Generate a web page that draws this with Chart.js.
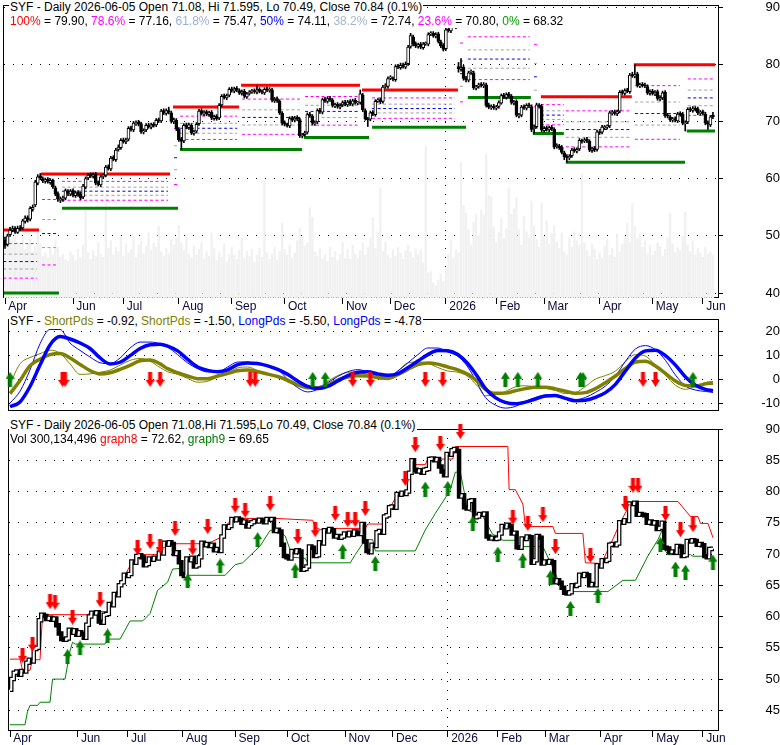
<!DOCTYPE html>
<html><head><meta charset="utf-8">
<script src="https://cdn.jsdelivr.net/npm/chart.js@4"></script>
<style>
html,body{margin:0;padding:0;background:#fff;}
#wrap{position:relative;width:780px;height:745px;overflow:hidden;background:#fff;}
canvas{position:absolute;left:0;}
.hd{position:absolute;font-family:"Liberation Sans",Arial,sans-serif;font-size:12px;line-height:14px;white-space:pre;background:#fff;color:#000;padding:0 1px;z-index:5;}
</style></head><body>
<div id="wrap">
<canvas id="c1" width="780" height="316" style="top:0px"></canvas>
<canvas id="c2" width="780" height="110" style="top:310px"></canvas>
<canvas id="c3" width="780" height="325" style="top:420px"></canvas>
<div class="hd" style="left:9px;top:0px">SYF - Daily 2026-06-05 Open 71.08, Hi 71.595, Lo 70.49, Close 70.84 (0.1%)</div>
<div class="hd" style="left:9px;top:14px"><span style="color:#ff0000">100%</span> = 79.90, <span style="color:#ff00ff">78.6%</span> = 77.16, <span style="color:#9cb0d6">61.8%</span> = 75.47, <span style="color:#0000ff">50%</span> = 74.11, <span style="color:#a8b6cc">38.2%</span> = 72.74, <span style="color:#ff00ff">23.6%</span> = 70.80, <span style="color:#00a000">0%</span> = 68.32</div>
<div class="hd" style="left:9px;top:314px">SYF - <span style="color:#808000">ShortPds</span> = -0.92, <span style="color:#808000">ShortPds</span> = -1.50, <span style="color:#0000ff">LongPds</span> = -5.50, <span style="color:#0000ff">LongPds</span> = -4.78</div>
<div class="hd" style="left:9px;top:418px">SYF - Daily 2026-06-05 Open 71.08,Hi 71.595,Lo 70.49, Close 70.84 (0.1%)</div>
<div class="hd" style="left:9px;top:432px">Vol 300,134,496 <span style="color:#ff0000">graph8</span> = 72.62, <span style="color:#008000">graph9</span> = 69.65</div>
</div>
<script>
// ---------- DATA ----------
const monthTickIdx = [0,27,47,69,90,111,134,153,175,195,214,236,257,277];
const monthTickLabels = ['Apr','Jun','Jul','Aug','Sep','Oct','Nov','Dec','2026','Feb','Mar','Apr','May','Jun'];
const yearLineIdx = 175;
const priceTicks = [40,50,60,70,80,90];
const oscTicks = [-10,0,10,20];
const stepTicks = [45,50,55,60,65,70,75,80,85,90];

const opens = [
49.2,48.5,50.2,51.0,51.3,50.6,51.4,51.4,52.5,53.2,
52.9,54.6,55.4,59.2,60.5,60.0,59.5,59.9,59.3,59.7,
58.4,57.4,56.2,56.4,56.6,57.8,57.3,57.9,57.0,57.6,
57.3,56.8,58.5,60.1,60.7,60.4,60.8,59.3,58.9,60.4,
60.6,62.1,61.7,63.7,63.3,65.1,65.4,66.8,66.4,66.9,
68.9,68.5,69.6,69.9,69.6,68.1,68.5,69.4,69.0,69.5,
69.4,70.3,70.1,71.9,71.4,71.9,71.5,69.9,70.2,68.6,
66.9,66.6,69.4,68.9,69.3,67.9,68.3,69.6,71.9,71.3,
71.7,71.2,71.6,70.5,70.9,70.6,72.9,74.5,74.1,74.6,
75.7,75.3,75.8,75.4,74.9,75.3,74.3,74.9,75.2,75.4,
75.1,75.6,75.2,75.0,75.7,75.4,75.5,73.6,74.0,73.5,
71.4,69.8,69.4,69.2,70.6,70.2,70.7,70.3,67.4,67.7,
68.1,71.3,70.9,69.6,69.9,72.0,71.6,73.9,73.5,74.1,
73.7,72.7,73.0,72.5,72.9,73.4,72.9,73.5,73.0,73.7,
73.2,73.3,74.6,71.9,70.4,70.4,71.6,71.2,73.6,73.8,
73.5,76.1,76.1,77.6,77.5,77.3,79.7,79.4,79.9,79.5,
80.1,83.1,84.8,83.6,83.1,83.5,82.9,83.6,83.5,85.3,
85.4,84.9,85.3,83.9,83.3,82.7,86.1,85.8,86.7,86.9,
79.6,79.1,79.5,77.6,77.2,78.6,78.5,75.8,76.1,76.5,
76.2,76.4,72.9,72.4,72.7,72.3,72.6,73.2,74.6,74.2,
74.8,74.4,73.2,73.5,71.0,71.1,72.6,72.3,72.9,72.6,
68.7,69.1,72.8,72.7,68.4,68.9,68.5,69.0,68.6,65.6,
65.7,65.5,64.5,63.9,63.6,64.0,65.1,64.8,65.2,66.6,
66.6,66.9,66.5,64.9,65.3,65.1,68.1,68.1,68.9,69.0,
69.2,71.4,71.7,71.3,71.8,75.2,74.9,75.5,75.2,78.2,
77.9,78.3,76.2,76.5,76.4,76.1,74.9,75.3,74.8,75.2,
73.9,74.1,75.1,71.1,70.8,70.2,70.5,70.1,71.4,71.3,
69.6,69.9,72.2,71.9,72.3,72.2,71.4,71.7,71.3,69.8,
69.4,71.08];
const highs = [
49.8,50.3,51.5,51.7,51.6,51.7,51.8,52.9,53.5,53.5,
55.1,55.4,59.7,60.7,60.9,60.3,60.1,60.2,60.0,59.9,
58.7,57.7,56.8,56.9,58.2,58.1,58.1,58.2,57.8,57.9,
57.6,59.0,60.3,60.9,61.0,61.0,61.1,59.6,60.6,60.8,
62.3,62.4,63.9,64.0,65.3,65.9,67.0,67.1,67.1,69.1,
69.2,70.0,70.1,70.2,69.9,68.7,69.6,69.7,69.7,69.8,
70.5,70.6,72.1,72.2,72.2,72.5,71.8,70.6,70.5,68.9,
67.2,69.6,69.7,69.7,69.6,68.5,69.8,72.1,72.2,71.9,
72.0,71.8,71.9,71.1,71.2,73.1,74.7,74.8,74.8,75.9,
76.0,76.0,76.1,75.7,75.5,75.6,75.1,75.4,75.6,75.7,
76.3,75.9,75.5,75.9,76.0,75.9,75.8,74.2,74.3,73.8,
71.7,70.1,69.7,70.8,70.9,70.9,71.0,70.6,67.9,68.3,
71.5,71.6,71.2,70.1,72.2,72.3,74.1,74.2,74.3,74.4,
74.0,73.2,73.3,73.1,73.6,73.7,73.7,73.8,73.9,74.0,
73.5,75.5,74.9,72.2,70.7,71.8,71.9,73.8,74.0,74.1,
76.3,76.6,77.8,78.0,77.8,79.9,80.0,80.2,80.2,80.4,
83.3,85.4,85.1,83.9,83.7,83.8,83.8,83.9,85.5,85.7,
85.7,85.5,85.6,84.2,83.6,86.3,86.4,87.0,87.7,87.2,
80.3,81.0,79.8,77.9,78.8,79.0,78.8,76.3,76.7,76.8,
76.8,76.7,73.2,72.9,73.0,72.8,73.6,74.8,74.9,75.0,
75.1,74.7,73.7,73.8,71.4,72.8,72.9,73.1,73.2,72.9,
69.4,73.2,73.1,73.0,69.1,69.2,69.2,69.3,68.9,66.1,
66.0,65.8,64.8,64.2,64.2,65.3,65.4,65.4,67.0,66.9,
67.1,67.2,66.8,65.5,65.6,68.5,68.4,69.3,69.3,69.4,
71.8,71.9,72.0,72.0,75.4,75.5,75.7,75.8,78.4,78.6,
79.9,78.6,76.7,76.8,76.7,76.4,75.5,75.6,75.4,75.5,
74.5,75.3,75.4,71.4,71.1,70.7,70.8,71.6,71.7,71.6,
70.1,72.4,72.5,72.6,72.6,72.5,71.9,72.0,71.6,70.1,
71.0,71.595];
const lows = [
47.8,48.2,49.9,50.7,50.4,50.4,50.9,51.1,52.2,52.4,
52.6,54.3,55.1,58.9,59.8,59.3,59.2,59.2,59.0,58.3,
57.0,56.0,55.8,56.0,56.3,57.0,57.0,56.8,56.7,56.9,
56.3,56.5,58.2,59.8,60.2,60.1,58.9,58.7,58.6,60.0,
60.3,61.5,61.4,63.1,63.0,64.8,65.1,66.2,66.1,66.6,
68.3,68.2,69.3,69.2,67.9,67.8,68.2,68.8,68.7,69.0,
69.1,69.8,69.8,71.2,71.1,71.3,69.7,69.6,68.4,66.5,
65.1,66.3,68.7,68.6,67.7,67.6,68.0,69.3,71.1,71.0,
71.0,70.9,70.3,70.2,70.2,70.3,72.6,73.9,73.8,74.3,
75.1,75.0,75.2,74.7,74.6,74.1,74.0,74.6,74.9,74.9,
74.8,75.0,74.8,74.7,75.2,75.1,73.4,73.3,73.3,71.2,
69.4,69.2,69.0,68.9,70.0,69.9,70.1,67.2,67.1,67.4,
67.8,70.7,69.4,69.3,69.6,71.4,71.3,73.3,73.2,73.5,
72.5,72.4,72.3,72.2,72.6,72.7,72.6,72.8,72.7,73.0,
72.9,73.0,71.7,70.2,69.1,70.1,71.0,70.9,73.3,73.1,
73.2,75.8,75.8,77.3,77.1,77.0,79.2,79.1,79.3,79.2,
79.8,82.8,83.2,82.9,82.8,82.7,82.6,83.3,83.2,85.0,
84.7,84.6,83.7,82.9,82.3,82.4,85.6,85.5,86.4,86.2,
78.6,78.8,77.2,76.9,76.9,78.2,75.6,75.5,75.8,76.0,
75.9,72.5,72.2,72.1,72.1,72.0,72.3,73.0,74.0,73.9,
74.2,73.0,72.9,70.8,70.6,70.8,72.1,72.0,72.4,68.2,
67.9,68.8,72.3,68.2,68.1,68.3,68.2,68.4,65.2,65.3,
65.1,64.3,63.3,62.85,63.3,63.7,64.6,64.5,64.9,66.2,
66.3,66.3,64.7,64.6,64.7,64.8,67.7,67.8,68.6,68.7,
68.9,71.1,71.1,71.0,71.5,74.7,74.6,75.0,74.9,77.7,
77.6,76.0,75.9,76.0,75.9,74.7,74.6,74.6,74.5,73.7,
73.6,73.8,70.7,70.6,70.0,69.9,69.9,69.8,70.9,69.4,
68.32,69.6,71.7,71.6,71.8,71.2,71.1,71.1,69.4,68.6,
69.1,70.49];
const closes = [
48.3,50.0,51.0,51.2,50.7,51.3,51.2,52.6,53.1,52.8,
54.8,55.0,59.4,60.3,60.1,59.6,59.8,59.5,59.7,58.6,
57.3,56.4,56.3,56.5,57.9,57.4,57.8,57.1,57.5,57.2,
56.6,58.7,60.0,60.6,60.5,60.7,59.2,59.0,60.3,60.4,
62.0,61.8,63.6,63.4,65.0,65.5,66.7,66.5,66.8,68.8,
68.6,69.7,69.8,69.5,68.2,68.4,69.3,69.1,69.4,69.3,
70.2,70.1,71.8,71.5,71.9,71.6,70.0,70.3,68.7,66.8,
66.5,69.3,69.0,69.4,68.0,68.2,69.5,71.8,71.4,71.6,
71.3,71.5,70.6,70.8,70.5,72.8,74.4,74.2,74.5,75.6,
75.4,75.7,75.5,75.0,75.2,74.4,74.8,75.1,75.3,75.2,
75.5,75.3,75.1,75.6,75.5,75.6,73.7,73.9,73.6,71.5,
69.7,69.5,69.3,70.5,70.3,70.6,70.4,67.5,67.6,68.0,
71.2,71.0,69.7,69.8,71.9,71.7,73.8,73.6,74.0,73.8,
72.8,72.9,72.6,72.8,73.3,73.0,73.4,73.1,73.6,73.3,
73.2,74.8,72.0,70.5,70.3,71.5,71.3,73.5,73.7,73.4,
76.0,76.2,77.5,77.6,77.4,79.6,79.5,79.8,79.6,80.0,
83.0,85.0,83.5,83.2,83.4,83.0,83.5,83.6,85.2,85.3,
85.0,85.2,84.0,83.2,82.6,86.0,85.9,86.6,86.8,86.5,
79.2,79.4,77.5,77.3,78.5,78.6,75.9,76.0,76.4,76.3,
76.5,72.8,72.5,72.6,72.4,72.5,73.3,74.5,74.3,74.7,
74.5,73.3,73.4,71.1,71.0,72.5,72.4,72.8,72.7,68.6,
69.0,72.9,72.6,68.5,68.8,68.6,68.9,68.7,65.5,65.8,
65.4,64.6,63.8,63.7,63.9,65.0,64.9,65.1,66.7,66.5,
66.8,66.6,65.0,65.2,65.0,68.2,68.0,69.0,68.9,69.1,
71.5,71.6,71.4,71.7,75.1,75.0,75.4,75.3,78.1,78.0,
78.2,76.3,76.4,76.3,76.2,75.0,75.2,74.9,75.1,74.0,
74.2,75.0,71.0,70.9,70.3,70.4,70.2,71.3,71.2,69.7,
69.8,72.1,72.0,72.2,72.1,71.5,71.6,71.4,69.7,69.5,
70.8,70.84];
// volume, millions of shares
const volumes = [
6.2,5.8,6.5,5.4,6.0,5.1,4.8,5.6,4.4,4.9,
5.3,4.2,4.7,6.1,5.0,3.8,4.1,3.6,4.5,3.9,
5.2,4.6,3.7,4.0,3.5,3.3,4.2,3.9,3.4,4.4,
3.6,4.8,8.0,4.1,3.5,4.3,3.8,5.0,4.0,3.7,
9.2,4.5,5.2,3.9,4.6,4.2,5.5,3.8,4.9,4.1,
4.4,5.6,3.7,4.8,5.2,4.0,4.7,5.9,4.3,5.0,
4.6,6.5,4.2,3.8,4.5,4.0,5.3,4.8,5.5,6.6,
5.0,4.3,5.8,4.0,3.6,4.7,3.9,4.4,5.1,3.5,
4.2,3.8,5.9,4.5,3.4,4.1,3.7,4.9,3.3,4.0,
4.6,3.9,3.5,4.3,5.4,3.6,4.2,3.8,4.4,3.2,
3.9,4.5,3.7,10.7,4.1,3.5,4.0,4.6,3.4,4.2,
6.8,4.4,3.9,4.8,3.6,4.1,5.2,6.3,5.5,4.7,
5.0,8.2,7.3,4.2,3.8,4.5,3.5,4.0,3.3,4.6,
3.7,4.2,3.4,3.9,5.1,3.6,4.4,3.5,4.8,4.0,
3.6,4.3,5.0,3.9,4.6,5.4,7.3,4.5,6.0,10.0,
4.2,5.1,3.9,3.6,4.4,3.8,4.6,4.1,3.5,4.3,
4.8,4.2,3.6,4.5,3.9,4.4,3.2,13.8,2.3,2.4,
1.4,1.1,1.6,2.2,1.5,2.7,4.0,5.2,3.6,4.4,
4.1,12.3,8.4,7.7,6.2,4.8,6.9,7.6,5.7,8.0,
7.5,13.0,9.3,9.2,6.4,5.0,6.0,7.2,5.4,6.3,
10.0,7.6,8.1,9.1,6.2,4.8,7.4,6.0,5.5,8.8,
6.5,5.3,4.6,8.6,5.6,7.0,4.9,5.8,6.6,5.1,
4.5,5.9,4.2,3.9,5.4,4.6,6.0,5.2,4.8,11.3,
5.0,4.3,3.8,4.9,4.4,3.5,4.1,3.6,4.7,5.3,
3.9,4.5,3.7,5.8,4.2,4.9,5.6,6.8,5.1,8.6,
6.5,5.4,5.8,4.6,5.2,4.0,4.8,3.9,4.3,5.0,
4.7,3.8,4.4,5.5,7.7,4.9,4.1,4.6,4.3,5.6,
7.8,4.8,4.2,5.2,3.9,4.5,4.1,3.7,4.6,4.0,
4.2,3.9];

// Fibonacci retracement blocks: [fromDay, toDay, high(100%), low(0%)]
const fibSets = [
[-0.7,12.7,51.0,40.0],[14.7,20.7,60.8,40.0],[22.6,64.7,60.8,54.8],[67.1,68.3,72.5,54.8],
[69.5,92.1,72.5,65.1],[94.1,117.1,76.3,65.1],[119.1,140.9,76.3,67.2],[145.7,178.6,75.5,69.0],
[180.6,181.8,87.7,69.0],[183.7,208.3,87.7,74.1],[210.0,211.1,87.7,67.9],[212.7,221.8,74.3,67.9],
[222.6,248.0,74.3,62.85],[250.0,267.9,79.9,62.85],[271.0,281.4,79.9,68.32]];
const fibRatios = [0.786,0.618,0.5,0.382,0.236];
const fibRatioColors = ['#ff00ff','#a0a0a0','#0000ff','#a0a0a0','#ff00ff'];
// 100% lines and 0% lines: [fromDay, toDay, level]
const fibHighLines = [[-0.7,13.5,51.0],[14.3,65.5,60.8],[66.7,92.9,72.5],[93.7,140.9,76.3],[141.7,179.8,75.5],[212.7,248.8,74.3],[249.6,281.8,79.9]];
const fibLowLines = [[-0.7,21.4,40.0],[22.6,68.7,54.8],[69.5,117.9,65.1],[118.7,144.5,67.2],[145.7,183.0,69.0],[183.7,208.7,74.2],[209.5,221.8,67.9],[222.6,269.9,62.85],[270.6,281.8,68.32]];

// oscillator (sampled days)
const oscIdx = [0,4,8,12,16,20,24,28,32,36,40,44,48,52,56,60,63,67,71,75,79,83,87,91,95,99,103,107,111,115,119,123,127,131,135,139,143,147,151,155,159,163,167,171,175,179,183,187,190,194,198,202,206,210,214,218,222,226,230,234,238,242,246,250,254,258,262,266,270,274,278,281];
const longPdsThick = [-11.5,-9.5,-3,6,14.5,18,17,15.3,13,9,6.5,7.2,10,13,14.6,14.8,14,12,8.4,5.2,3.8,3.2,4,6.2,6.9,6.7,5.7,4.2,2.1,-0.7,-3,-3.9,-3,-0.7,1.6,3,3.2,2.3,1.7,2.4,4.9,7.7,10.4,12.1,12,10.5,6.6,1,-3.8,-7.7,-9.7,-10.3,-9.6,-8.3,-7,-6.8,-8,-9,-8.8,-7.6,-5.6,-2.1,3.5,9,12,12.3,10,6,1,-2.5,-4.2,-4.78];
const longPdsThin = [-10,-5,4,15,21,21,15.3,12.2,9.4,7,6.6,9,13.2,15.7,15.7,15,13.6,10.4,6.9,4.5,3.1,3.1,5.2,7.3,7.3,6.2,5.9,4.2,0,-3.5,-5.3,-4.2,-1.4,1.2,3.2,4.1,3.1,1.4,1,3.5,6.9,10.4,13.2,13.2,11.5,9.7,5.2,-2.1,-7.6,-10.8,-12.1,-11.4,-9.3,-7.6,-6.6,-6.9,-8.3,-8.6,-7.6,-5.5,-2.8,1.4,7.6,12.8,14.2,12.5,8,1.8,-2.8,-4.5,-5.1,-5.5];
const shortPdsThick = [-6,-0.5,5.8,8.5,10.4,10.9,9,6.3,3.7,2.3,2.8,4.2,5.9,7.8,8.1,6.5,4.5,2.8,1.4,0.3,0.3,1.4,2.5,3.6,3.9,3.2,2.2,1.2,-0.3,-2.3,-3.5,-3.5,-2.3,-0.3,1,1.5,1.4,0.8,0.4,2,4.2,6.2,6.9,6.4,5.2,4,2.1,-1,-4.2,-5.9,-5.8,-4.8,-3.9,-3.3,-3.3,-4,-5,-5.9,-5.6,-3.9,-1.4,1.4,4.6,7.3,7.6,5.6,2.5,-0.7,-2.6,-2.8,-1.9,-1.5];
const shortPdsThin = [-2,6.5,9.2,10.8,12.3,11,6.5,2.1,2.3,3,3.9,6,8,8.8,7.6,5,3.2,2.1,0.4,-1.2,-0.8,1,2.8,4.8,5.2,3.7,2.1,1,-1.2,-2.8,-3.7,-3.6,-0.8,1.6,3,3.2,1.8,0.2,0,3.5,6.9,7.3,6.8,5,3.5,3,1.2,-3,-6.9,-6.5,-5.1,-3.2,-2.7,-3.2,-3.8,-4.7,-6,-5.6,-3,0.1,1.6,3.5,7.5,10.4,9.8,6,1.8,-2.5,-4.2,-2.9,-1.3,-0.92];
const oscUpIdx = [0,121,126,198,203,211,228,229,273];
const oscUpVal = [0,0,0,0,0,0,0,0,0];
const oscDownIdx = [21,22,56,60,96,98,137,144,166,173,253,258];
const oscDownVal = [0,0,0,0,0,0,0,0,0,0,0,0];

// bottom panel signals
const downArrowIdx = [5,9,16,18,25,36,51,56,60,66,73,79,90,94,104,115,122,130,135,138,142,158,162,172,180,201,207,213,218,232,246,249,251,262,268,273];
const downArrowVal = [53.8,55.6,62.4,62.3,59.9,62.7,71.0,72.0,71.2,74.1,71.0,74.4,77.8,77.0,78.1,72.8,73.9,76.5,75.5,75.5,77.3,82.1,87.5,87.7,89.6,75.9,74.9,76.3,71.2,69.8,78.1,81.0,81.0,76.5,73.9,74.7];
const upArrowIdx = [23,28,39,71,84,99,114,133,146,166,175,185,195,205,216,224,235,260,266,270,281];
const upArrowVal = [53.6,55.0,56.9,65.7,68.1,72.3,67.3,70.4,68.5,80.4,80.5,74.9,70.0,68.9,66.2,61.3,63.4,71.5,67.6,67.1,68.7];
// graph8 (red) and graph9 (green) vertices: [day, value]
const graph8 = [[0,53.2],[4,53.2],[5,51.4],[8,51.4],[9,53.1],[12,53.1],[13,60.3],[31,60.3],[33,60.8],[39,60.8],[40,62.0],[42,63.6],[44,65.0],[46,66.7],[49,68.8],[51,69.8],[53,69.9],[60,69.9],[62,71.65],[79,71.65],[85,72.8],[86,74.4],[89,75.7],[106,75.7],[121,75.4],[122,74.3],[124,73.9],[128,73.9],[129,74.1],[142,74.1],[143,74.8],[149,74.8],[150,76.0],[152,77.5],[155,79.6],[159,80.0],[160,83.0],[162,84.3],[166,84.3],[167,85.2],[177,85.2],[178,87.2],[199,87.2],[199.5,80.3],[202,80.3],[205,78.0],[206,74.4],[217,74.4],[218,73.3],[229,73.3],[230,68.6],[236,68.5],[237,69.0],[240,71.5],[244,75.1],[248,78.1],[249,78.4],[267,78.4],[272,76.0],[275,76.0],[276,74.9],[279,74.9],[281,72.62]];
const graph9 = [[0,42.7],[6,42.7],[7,44.8],[8,45.8],[11,45.8],[12,46.3],[16,46.3],[17,50.0],[22,50.0],[24,54.5],[25,55.9],[26,55.6],[38,55.6],[39,56.4],[44,56.4],[48,59.3],[53,59.3],[56,60.5],[59,64.2],[63,65.5],[65,67.6],[68,67.7],[69,66.6],[86,66.6],[90,68.3],[93,68.6],[100,71.3],[104,73.8],[107,73.8],[110,72.9],[113,69.5],[118,69.3],[119,68.6],[136,68.6],[138,69.9],[142,72.3],[145,72.3],[146,70.5],[162,70.5],[166,73.85],[170,76.5],[175,79.6],[176,80.3],[178,83.1],[180,83.1],[183,77.0],[186,76.5],[189,76.0],[193,73.1],[195,72.9],[197,72.2],[202,72.2],[203,71.2],[213,71.2],[217,67.8],[220,65.0],[222,64.0],[239,64.0],[245,65.8],[250,65.8],[255,69.7],[259,72.3],[261,74.1],[262,70.5],[263,69.9],[272,69.9],[273,69.65],[281,69.65]];

// ---------- CHART HELPERS ----------
Chart.defaults.font.family = '"Liberation Sans", Arial, sans-serif';
Chart.defaults.animation = false;

function makeArrow(color, up) {
  const c = document.createElement('canvas'); c.width = 9; c.height = 15;
  const g = c.getContext('2d'); g.fillStyle = color; g.beginPath();
  if (up) { g.moveTo(4.5,0); g.lineTo(9,7); g.lineTo(6.5,7); g.lineTo(6.5,15); g.lineTo(2.5,15); g.lineTo(2.5,7); g.lineTo(0,7); }
  else { g.moveTo(2.5,0); g.lineTo(6.5,0); g.lineTo(6.5,8); g.lineTo(9,8); g.lineTo(4.5,15); g.lineTo(0,8); g.lineTo(2.5,8); }
  g.closePath(); g.fill(); return c;
}
const redDown = makeArrow('#ff0000', false);
const greenUp = makeArrow('#008000', true);

const framePlugin = { id: 'frame', beforeDatasetsDraw(chart) {
  const {ctx, chartArea: a} = chart; ctx.save(); ctx.strokeStyle = '#000'; ctx.lineWidth = 1;
  ctx.strokeRect(Math.round(a.left) - 0.5, Math.round(a.top) + 0.5, Math.round(a.right - a.left), Math.round(a.bottom - a.top) - 1);
  ctx.restore(); } };

function xScale(display, height, pad, yearLine, z) {
  return { type: 'linear', position: 'bottom', min: -0.4, max: 283.4, display: display, offset: false, z: z,
    afterBuildTicks: s => { s.ticks = monthTickIdx.map(v => ({value: v})); },
    afterFit: s => { s.height = height; s.paddingLeft = 0; s.paddingRight = 0; },
    ticks: { autoSkip: false, maxRotation: 0, minRotation: 0, align: 'start', padding: pad, color: '#0a0a3c', font: {size: 12},
      callback: v => ' ' + monthTickLabels[monthTickIdx.indexOf(v)] },
    grid: { offset: false, drawOnChartArea: yearLine, color: c => (c.tick && c.tick.value === yearLineIdx) ? '#000' : 'rgba(0,0,0,0)',
      tickColor: '#000', tickLength: 6, lineWidth: 1 },
    border: { display: false, dash: [1, 8] } };
}
function yScale(min, max, ticks, pad, z) {
  return { type: 'linear', position: 'right', min: min, max: max, z: z,
    afterBuildTicks: s => { s.ticks = ticks.map(v => ({value: v})); },
    afterFit: s => { s.width = 61; s.paddingTop = 0; s.paddingBottom = 0; },
    ticks: { crossAlign: 'far', padding: pad, color: '#000', font: {size: 13} },
    grid: { color: '#000', lineWidth: 1, tickLength: 4, tickColor: '#000' },
    border: { display: false, dash: [1, 8] } };
}
function segPoints(list) {
  const pts = [];
  list.forEach(([a, b, v]) => { pts.push({x: a, y: v}, {x: b, y: v}, {x: b, y: null}); });
  return pts;
}
function fibLevel(r) {
  const pts = [];
  fibSets.forEach(([a, b, hi, lo]) => { const v = lo + r * (hi - lo); pts.push({x: a, y: v}, {x: b, y: v}, {x: b, y: null}); });
  return pts;
}
const baseOpts = { responsive: false, animation: false, events: [], plugins: { legend: {display: false}, tooltip: {enabled: false} } };

// ---------- PANEL 1 ----------
const fibDatasets = fibRatios.map((r, k) => ({ type: 'line', data: fibLevel(r), borderColor: fibRatioColors[k], borderWidth: 1,
  borderDash: [3, 2.5], pointRadius: 0, spanGaps: false, order: 6 }));
new Chart(document.getElementById('c1'), {
  type: 'bar',
  data: { datasets: [
    { type: 'bar', data: volumes.map((v, i) => ({x: i, y: v})), yAxisID: 'yv', backgroundColor: '#f1f1f1', barThickness: 1.7, grouped: false, order: 20 },
    ...fibDatasets,
    { type: 'line', data: segPoints(fibHighLines), borderColor: '#ff0000', borderWidth: 3, borderCapStyle: 'butt', pointRadius: 0, spanGaps: false, order: 4 },
    { type: 'line', data: segPoints(fibLowLines), borderColor: '#008000', borderWidth: 3, borderCapStyle: 'butt', pointRadius: 0, spanGaps: false, order: 4 },
    { type: 'bar', data: closes.map((c, i) => ({x: i, y: [lows[i], highs[i]]})), backgroundColor: '#000', barThickness: 1, grouped: false, order: 2 },
    { type: 'bar', data: closes.map((c, i) => ({x: i, y: [opens[i], c]})), backgroundColor: c => closes[c.dataIndex] >= opens[c.dataIndex] ? '#fff' : '#000',
      borderColor: '#000', borderWidth: 1, borderSkipped: false, barThickness: 3, minBarLength: 1, grouped: false, order: 1 }
  ]},
  options: { ...baseOpts, layout: { padding: {left: 4, top: 5, right: 0, bottom: 0} },
    scales: { x: xScale(true, 18, -5, true, 1), y: yScale(39.13, 90.35, priceTicks, 39.5, 1),
      yv: { type: 'linear', display: false, min: 0, max: 26.6 } } },
  plugins: [framePlugin]
});

// ---------- PANEL 2 ----------
const oscPts = arr => arr.map((v, k) => ({x: oscIdx[k], y: v}));
new Chart(document.getElementById('c2'), {
  type: 'line',
  data: { datasets: [
    { data: oscPts(shortPdsThin), borderColor: '#808000', borderWidth: 1, pointRadius: 0, cubicInterpolationMode: 'monotone', order: 6 },
    { data: oscPts(longPdsThin), borderColor: '#0000ff', borderWidth: 1, pointRadius: 0, cubicInterpolationMode: 'monotone', order: 5 },
    { data: oscPts(shortPdsThick), borderColor: '#808000', borderWidth: 3.5, pointRadius: 0, cubicInterpolationMode: 'monotone', order: 4 },
    { data: oscPts(longPdsThick), borderColor: '#0000ff', borderWidth: 3.5, pointRadius: 0, cubicInterpolationMode: 'monotone', order: 3 },
    { data: oscDownIdx.map((x, k) => ({x: x, y: oscDownVal[k]})), showLine: false, pointStyle: redDown, pointRadius: 8, clip: false, order: 1 },
    { data: oscUpIdx.map((x, k) => ({x: x, y: oscUpVal[k]})), showLine: false, pointStyle: greenUp, pointRadius: 8, clip: false, order: 1 }
  ]},
  options: { ...baseOpts, layout: { padding: {left: 4, top: 9, right: 0, bottom: 8} },
    scales: { x: xScale(false, 0, 0, false, 0), y: yScale(-13.33, 25.42, oscTicks, 35.2, 0) } },
  plugins: [framePlugin]
});

// ---------- PANEL 3 ----------
const stepPts = closes.map((c, i) => ({x: i, y: c}));
new Chart(document.getElementById('c3'), {
  type: 'line',
  data: { datasets: [
    { data: graph8.map(([x, y]) => ({x, y})), borderColor: '#ff0000', borderWidth: 1, pointRadius: 0, order: 6 },
    { data: graph9.map(([x, y]) => ({x, y})), borderColor: '#008000', borderWidth: 1, pointRadius: 0, order: 6 },
    { data: stepPts, stepped: 'middle', borderColor: '#000', borderWidth: 4.5, borderJoinStyle: 'miter', pointRadius: 0, order: 4 },
    { data: stepPts, stepped: 'middle', borderColor: '#fff', borderWidth: 2, borderJoinStyle: 'miter', pointRadius: 0, order: 3,
      segment: { borderColor: c => c.p1.parsed.y >= c.p0.parsed.y ? '#fff' : 'rgba(0,0,0,0)' } },
    { data: downArrowIdx.map((x, k) => ({x: x, y: downArrowVal[k]})), showLine: false, pointStyle: redDown, pointRadius: 8, clip: false, order: 1 },
    { data: upArrowIdx.map((x, k) => ({x: x, y: upArrowVal[k]})), showLine: false, pointStyle: greenUp, pointRadius: 8, clip: false, order: 1 }
  ]},
  options: { ...baseOpts, layout: { padding: {left: 4, top: 4, right: 0, bottom: 0} },
    scales: { x: xScale(true, 14, -6, true, 0), y: yScale(41.7, 90, stepTicks, 39.5, 0) } },
  plugins: [framePlugin]
});
</script>
</body></html>
